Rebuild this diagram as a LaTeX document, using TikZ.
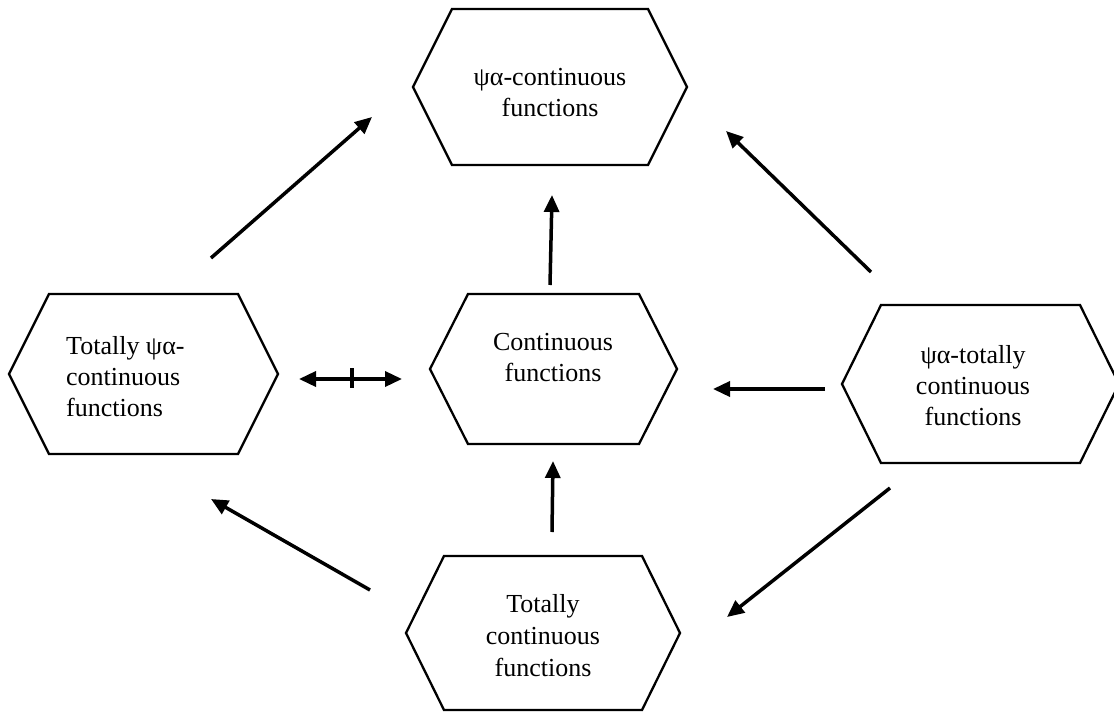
\documentclass[tikz,border=0pt]{standalone}
\usepackage{fontspec}
\setmainfont{Liberation Serif}
\usetikzlibrary{arrows.meta}
\begin{document}
\begin{tikzpicture}[x=1pt,y=-1pt,
  hexline/.style={line width=2.3pt, line join=miter},
  lbl/.style={font=\fontsize{26}{31}\selectfont, align=center, inner sep=0pt},
  arr/.style={line width=3.5pt, -{Triangle[length=17pt,width=15pt]}},
  dblarr/.style={line width=3.5pt, {Triangle[length=17pt,width=15pt]}-{Triangle[length=17pt,width=15pt]}},
  tick/.style={line width=3.5pt},
]
\useasboundingbox (0,0) rectangle (1114,712);
\clip (0,0) rectangle (1114,712);
% hexagon: #1 center, #2 half width, #3 half height, #4 inset
\newcommand\drawhex[4]{%
  \draw[hexline] (#1) ++(-#2,0) -- ++(#4,-#3) -- ++({2*#2-2*#4},0) -- ++(#4,#3)
    -- ++(-#4,#3) -- ++({-2*#2+2*#4},0) -- cycle;}

% hexagon centres
\coordinate (topc) at (550,87);
\coordinate (leftc) at (143.5,374);
\coordinate (midc) at (553.5,369);
\coordinate (rightc) at (980.5,384);
\coordinate (botc) at (543,633);

\drawhex{topc}{137}{78}{39}
\drawhex{leftc}{134.5}{80}{40}
\drawhex{midc}{123.5}{75}{38}
\drawhex{rightc}{138.5}{79}{39}
\drawhex{botc}{137}{77}{38}

% labels
\node[lbl] (top) at (550,93) {ψα-continuous\\functions};
\node[lbl, align=left, anchor=west] (left) at (66,377) {Totally ψα-\\continuous\\functions};
\node[lbl] (mid) at (553,358) {Continuous\\functions};
\node[lbl] (right) at (973,386) {ψα-totally\\continuous\\functions};
\node[lbl, font=\fontsize{26}{32}\selectfont] (bot) at (543,636) {Totally\\continuous\\functions};

% connector end points
\coordinate (a1s) at (211,258); \coordinate (a1e) at (372,117);
\coordinate (a2s) at (871,272); \coordinate (a2e) at (726,131);
\coordinate (a3s) at (550,285); \coordinate (a3e) at (552,195);
\coordinate (a4s) at (825,389); \coordinate (a4e) at (713,389);
\coordinate (a5s) at (552,532); \coordinate (a5e) at (553,461);
\coordinate (a6s) at (370,590); \coordinate (a6e) at (211,499);
\coordinate (a7s) at (890,488); \coordinate (a7e) at (727,617);
\coordinate (dls) at (299,379); \coordinate (dle) at (402,379);
\coordinate (tk1) at (352,368); \coordinate (tk2) at (352,388);

\draw[arr] (a1s) -- (a1e);
\draw[arr] (a2s) -- (a2e);
\draw[arr] (a3s) -- (a3e);
\draw[arr] (a4s) -- (a4e);
\draw[arr] (a5s) -- (a5e);
\draw[arr] (a6s) -- (a6e);
\draw[arr] (a7s) -- (a7e);
\draw[dblarr] (dls) -- (dle);
\draw[tick] (tk1) -- (tk2);
\end{tikzpicture}
\end{document}
